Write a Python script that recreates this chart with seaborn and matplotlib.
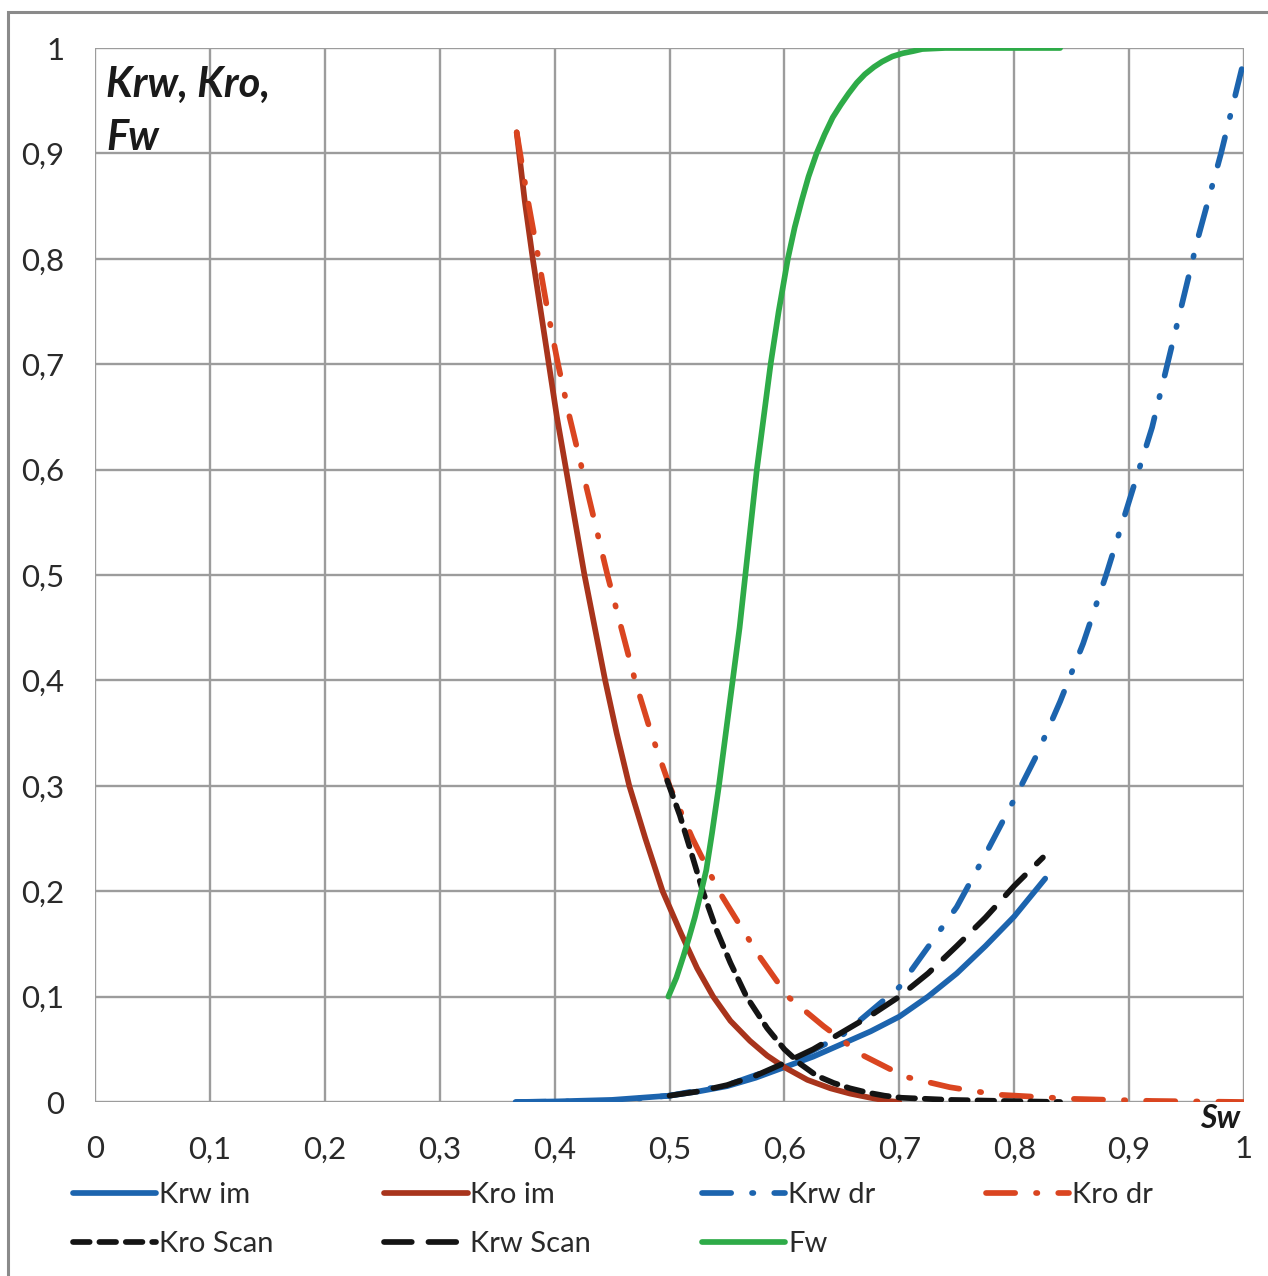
import matplotlib
matplotlib.use("Agg")
import matplotlib.pyplot as plt
import matplotlib.patches as mpatches
import pandas as pd
import seaborn as sns

sns.set_style("white")
plt.rcParams['font.family'] = ['Lato', 'DejaVu Sans']
plt.rcParams['lines.scale_dashes'] = False

# values (Sw, K)
krw_im_x = [0.366, 0.4, 0.45, 0.5, 0.525, 0.55, 0.575, 0.6, 0.625, 0.65, 0.675, 0.7,
            0.725, 0.75, 0.775, 0.8, 0.827]
krw_im_y = [0.0, 0.0005, 0.002, 0.006, 0.01, 0.015, 0.023, 0.033, 0.043, 0.055, 0.067,
            0.081, 0.1, 0.122, 0.148, 0.176, 0.212]

kro_im_x = [0.367, 0.374, 0.381, 0.388, 0.395, 0.402, 0.41, 0.418, 0.426, 0.435, 0.444,
            0.454, 0.465, 0.479, 0.494, 0.51, 0.524, 0.538, 0.553, 0.57, 0.585, 0.6,
            0.62, 0.64, 0.657, 0.675, 0.69, 0.7]
kro_im_y = [0.92, 0.855, 0.8, 0.75, 0.7, 0.65, 0.6, 0.55, 0.5, 0.45, 0.4,
            0.35, 0.3, 0.25, 0.2, 0.16, 0.127, 0.1, 0.077, 0.058, 0.044, 0.033,
            0.021, 0.013, 0.008, 0.004, 0.001, 0.0]

krw_dr_x = [0.367, 0.45, 0.5, 0.55, 0.6, 0.65, 0.7, 0.75, 0.775, 0.8, 0.82, 0.84, 0.86,
            0.88, 0.9, 0.92, 0.94, 0.96, 0.98, 0.998]
krw_dr_y = [0.0, 0.001, 0.006, 0.016, 0.035, 0.063, 0.109, 0.185, 0.235, 0.287, 0.33,
            0.38, 0.435, 0.5, 0.57, 0.64, 0.73, 0.82, 0.9, 0.98]

kro_dr_x = [0.367, 0.376, 0.386, 0.394, 0.403, 0.413, 0.424, 0.435, 0.446, 0.458, 0.47,
            0.484, 0.5, 0.52, 0.543, 0.56, 0.579, 0.603, 0.634, 0.667, 0.705, 0.744,
            0.785, 0.85, 0.92, 1.0]
kro_dr_y = [0.92, 0.86, 0.8, 0.75, 0.7, 0.65, 0.6, 0.55, 0.5, 0.45, 0.4,
            0.35, 0.3, 0.25, 0.2, 0.17, 0.137, 0.1, 0.072, 0.045, 0.024, 0.014,
            0.007, 0.003, 0.001, 0.0]

kro_scan_x = [0.498, 0.509, 0.518, 0.529, 0.541, 0.553, 0.567, 0.585, 0.6, 0.614, 0.628,
              0.643, 0.657, 0.672, 0.687, 0.702, 0.744, 0.79, 0.84]
kro_scan_y = [0.305, 0.272, 0.24, 0.2, 0.163, 0.132, 0.1, 0.07, 0.05, 0.036, 0.025,
              0.018, 0.013, 0.009, 0.006, 0.004, 0.002, 0.001, 0.0]

krw_scan_x = [0.5, 0.525, 0.55, 0.575, 0.6, 0.625, 0.65, 0.675, 0.7, 0.725, 0.75, 0.775,
              0.8, 0.825]
krw_scan_y = [0.006, 0.01, 0.016, 0.025, 0.037, 0.05, 0.066, 0.082, 0.1, 0.122, 0.148,
              0.175, 0.205, 0.232]

fw_x = [0.499, 0.506, 0.512, 0.517, 0.522, 0.527, 0.532, 0.537, 0.543, 0.549, 0.555,
        0.561, 0.566, 0.571, 0.576, 0.582, 0.588, 0.595, 0.603, 0.609, 0.615, 0.621,
        0.628, 0.635, 0.642, 0.649, 0.656, 0.663, 0.67, 0.678, 0.685, 0.694, 0.703,
        0.712, 0.72, 0.74, 0.84]
fw_y = [0.1, 0.118, 0.138, 0.156, 0.175, 0.197, 0.22, 0.255, 0.3, 0.35, 0.4,
        0.45, 0.5, 0.55, 0.6, 0.65, 0.7, 0.75, 0.8, 0.83, 0.855, 0.878,
        0.9, 0.918, 0.934, 0.946, 0.957, 0.967, 0.975, 0.982, 0.987, 0.992, 0.995,
        0.997, 0.999, 1.0, 1.0]

ticks = [0, 0.1, 0.2, 0.3, 0.4, 0.5, 0.6, 0.7, 0.8, 0.9, 1]
tick_labels = ['0', '0,1', '0,2', '0,3', '0,4', '0,5', '0,6', '0,7', '0,8', '0,9', '1']

blue = '#1c64ae'
red_dark = '#a8341c'
red = '#da4520'
green = '#2eab48'
black = '#141414'

series = [
    ('Krw im', krw_im_x, krw_im_y, blue, '-'),
    ('Kro im', kro_im_x, kro_im_y, red_dark, '-'),
    ('Krw dr', krw_dr_x, krw_dr_y, blue, (0, (21, 15, 1, 15))),
    ('Kro dr', kro_dr_x, kro_dr_y, red, (0, (21, 15, 1, 15))),
    ('Kro Scan', kro_scan_x, kro_scan_y, black, (0, (12, 7))),
    ('Krw Scan', krw_scan_x, krw_scan_y, black, (0, (20, 12))),
    ('Fw', fw_x, fw_y, green, '-'),
]

fig = plt.figure(figsize=(12.68, 12.76), dpi=100)
ax = fig.add_axes([95 / 1268, 1 - 1102 / 1276, 1149 / 1268, 1054 / 1276])

for name, xs, ys, col, ls in series:
    df = pd.DataFrame({'Sw': xs, 'K': ys})
    sns.lineplot(data=df, x='Sw', y='K', ax=ax, color=col, linewidth=4.1,
                 linestyle=ls, label=name, dash_capstyle='round',
                 solid_capstyle='round', solid_joinstyle='round')

ax.set_xlim(0, 1)
ax.set_ylim(0, 1)
ax.set_xticks(ticks)
ax.set_yticks(ticks)
ax.set_xticklabels(tick_labels)
ax.set_yticklabels(tick_labels)
ax.set_xlabel('')
ax.set_ylabel('')
ax.grid(True, color='#9c9c9c', linewidth=1.7)
ax.set_axisbelow(True)
for s in ax.spines.values():
    s.set_visible(False)
ax.tick_params(axis='both', which='major', labelsize=22.5, colors='#9c9c9c',
               labelcolor='#2a2a2a', length=9, width=1.7, direction='out')
ax.tick_params(axis='x', pad=15)
ax.tick_params(axis='y', pad=13)

ax.text(0.01, 0.983, 'Krw, Kro,\nFw', transform=ax.transAxes, ha='left', va='top',
        fontsize=30, fontweight='bold', fontstyle='italic', color='#1a1a1a',
        linespacing=1.5)
ax.text(0.997, -0.002, 'Sw', transform=ax.transAxes, ha='right', va='top',
        fontsize=23, fontweight='bold', fontstyle='italic', color='#1a1a1a')

handles, labels = ax.get_legend_handles_labels()
ax.get_legend().remove()
order = [0, 4, 1, 5, 2, 6, 3]
fig.legend([handles[i] for i in order], [labels[i] for i in order],
           loc='upper left', bbox_to_anchor=(73 / 1268, 1 - 1182 / 1276), ncol=4,
           frameon=False, fontsize=21, handlelength=2.85, handletextpad=0.1,
           columnspacing=3.8, labelspacing=0.78, borderpad=0, borderaxespad=0,
           labelcolor='#2a2a2a')

fig.patches.append(mpatches.Rectangle((8 / 1268, -0.05), 1.2, 1 - 12 / 1276 + 0.05,
                                      transform=fig.transFigure, fill=False,
                                      edgecolor='#8a8a8a', linewidth=2.2))

fig.savefig('out.png', dpi=100)
